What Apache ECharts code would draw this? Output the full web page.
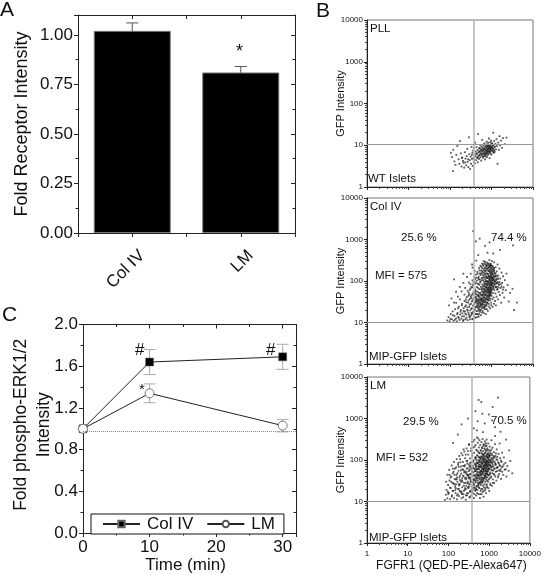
<!DOCTYPE html>
<html><head><meta charset="utf-8">
<style>html,body{margin:0;padding:0;background:#fff;overflow:hidden}#c{width:544px;height:575px}</style>
<script src="https://cdn.jsdelivr.net/npm/echarts@6/dist/echarts.min.js"></script></head>
<body><div id="c"></div>
<script>
const receptorCategories = ['Col IV', 'LM'];
const receptorValues = [1.02, 0.81];
const receptorErrors = [0.04, 0.03];

const timePoints = [0, 10, 30];
const colIVValues = [1.0, 1.64, 1.69];
const colIVErrors = [0, 0.12, 0.12];
const lmValues = [1.0, 1.34, 1.03];
const lmErrors = [0, 0.09, 0.06];
const baselineLevel = 0.98;

const gateX = 375;
const gateYPll = 10.7;
const gateY = 10;

const pllPoints = [[105,6.6],[112,5.2],[120,7.8],[128,4.1],[135,3.4],[118,2.4],[142,5.9],[150,9.6],[160,4.6],[168,3.6],[175,12.5],[182,6.4],[190,3.1],[198,5.1],[205,4.2],[212,3.8],[220,2.9],[228,6.8],[236,4.8],[245,3.3],[252,5.5],[260,8.2],[268,4.0],[276,3.0],[285,15.5],[292,6.1],[300,4.4],[306,2.7],[314,5.3],[322,3.6],[330,9.1],[338,4.7],[345,6.6],[352,3.2],[360,7.4],[368,5.0],[375,4.1],[382,8.6],[390,6.0],[398,3.7],[405,11.5],[412,5.4],[420,7.0],[428,4.4],[436,9.0],[444,6.3],[452,5.0],[460,7.7],[468,3.9],[476,18.5],[484,6.7],[492,5.6],[500,8.4],[508,4.7],[516,7.2],[524,6.0],[532,10.2],[540,5.2],[548,8.0],[556,6.5],[564,4.3],[572,9.3],[580,7.1],[588,5.7],[596,13.5],[604,6.2],[612,8.7],[620,7.4],[628,5.0],[636,9.8],[644,6.8],[652,7.9],[660,5.5],[668,11.0],[676,6.1],[684,8.3],[692,7.0],[700,4.6],[708,9.5],[716,6.4],[724,7.6],[732,5.8],[740,10.5],[748,8.1],[756,6.6],[764,12.2],[772,7.3],[780,5.2],[788,8.9],[796,6.9],[804,9.9],[812,7.7],[820,5.9],[828,11.4],[836,8.5],[844,6.2],[852,9.0],[860,7.2],[868,14.5],[876,10.0],[884,6.7],[892,8.2],[900,4.9],[910,9.4],[920,7.5],[930,11.9],[940,8.8],[950,6.3],[960,10.4],[970,7.9],[980,13.0],[990,9.2],[1000,6.0],[1020,8.6],[1040,11.2],[1060,7.4],[1080,9.7],[1100,20],[1120,8.3],[1140,6.6],[1160,12.6],[1180,9.0],[1200,7.0],[1240,10.8],[1280,8.0],[1320,14.0],[1360,9.5],[1400,3.6],[1450,11.6],[1500,7.8],[1560,16.5],[1620,9.9],[1700,12.9],[1800,8.7],[1900,14.8],[2100,10.6],[2300,15.2],
[431,6.1],[463,5.3],[497,6.9],[523,8.7],[551,7.4],[573,6.3],[611,5.4],[639,7.7],[667,8.4],[697,6.0],[727,8.9],[753,7.2],[783,9.6],[817,8.1],[847,7.0],[873,8.8],[907,7.9],[937,9.7],[967,8.5],[997,7.3],[1033,9.1],[1071,8.0],[1113,10.2],[1157,7.6],[1211,9.3],[477,4.9],[517,5.8],[587,7.9],[649,6.3],[713,5.4],[777,6.4],[843,9.9],[919,6.9],[1003,10.9],[1097,6.9],[337,5.8],[273,4.6],[233,3.9],[193,4.9],[383,4.7]];

const colIVPoints = [[86,11.2],[92,13.4],[98,10.7],[104,16],[110,12],[116,18.5],[122,11],[128,14.5],[134,21],[140,12.6],[146,10.6],[152,17],[158,13.6],[164,24],[170,11.5],[176,15.6],[182,20],[188,12.4],[194,28],[200,16.6],[206,10.9],[212,22],[218,14],[224,33],[230,18.5],[236,12],[242,26],[248,15.5],[254,41],[260,20],[266,11.4],[272,30],[278,17],[284,52],[290,24],[296,13.5],[302,37],[308,19.5],[314,66],[320,28],[326,15],[332,45],[338,22],[344,12.3],[350,34],[356,80],[362,18],[368,55],[374,26],[380,14],[386,40],[392,95],[398,21],[404,62],[410,31],[416,16],[422,48],[428,120],[434,24],[440,72],[446,36],[452,13.5],[458,55],[464,150],[470,19],[476,85],[482,29],[488,42],[494,110],[500,16],[506,64],[512,180],[518,24],[524,34],[530,92],[536,48],[542,140],[548,20],[554,72],[560,28],[566,220],[572,39],[578,105],[584,56],[590,17.5],[596,160],[602,82],[608,31],[614,44],[620,250],[626,23],[632,120],[638,65],[644,35],[650,190],[656,50],[662,95],[668,27],[674,140],[680,75],[686,40],[692,290],[698,21],[704,110],[710,58],[716,170],[722,33],[728,86],[734,46],[740,230],[746,130],[752,25],[758,68],[764,38],[770,100],[776,200],[782,54],[788,30],[794,150],[800,80],[806,270],[812,44],[818,120],[824,62],[830,35],[836,175],[842,92],[848,52],[854,240],[860,28],[866,135],[872,72],[878,42],[884,105],[890,320],[896,58],[902,190],[908,34],[914,85],[920,155],[926,48],[932,120],[938,66],[944,260],[950,38],[956,98],[962,210],[968,55],[974,140],[980,78],[986,30],[992,175],[998,110],[1005,44],[1015,300],[1025,62],[1035,150],[1045,88],[1055,36],[1065,230],[1075,125],[1085,52],[1095,72],[1110,190],[1125,40],[1140,105],[1155,280],[1170,60],[1185,160],[1200,85],[1215,33],[1230,130],[1245,50],[1260,215],[1280,72],[1300,110],[1320,42],[1340,170],[1360,62],[1380,95],[1400,250],[1430,36],[1460,135],[1490,55],[1520,80],[1550,200],[1590,46],[1630,115],[1670,68],[1710,30],[1750,160],[1800,90],[1850,52],[1900,130],[1960,70],[2020,40],[2100,105],[2200,60],[2300,150],[2450,80],[2600,32],[2800,52],[3200,65],[4100,30],[3500,20],
[95,26],[108,38],[125,30],[140,55],[155,42],[172,72],[190,56],[210,90],[232,68],[258,125],[285,92],[315,150],[350,210],[390,175],[430,310],[480,420],[360,1600],[420,900],[520,1050],[700,700],[900,850],[1600,560],[3300,720],[1100,460],[125,110],[800,480],[340,250],[210,150],
[300,14],[330,17],[355,12],[380,20],[410,13],[440,16],[470,22],[495,14],[525,18],[555,15],[585,26],[615,19],[650,17],[690,24],[730,16],[770,21],[815,19],[870,24],[925,22],[985,26],[1060,24],[1150,28],[1280,26],
[400,30],[425,38],[450,28],[475,46],[500,34],[530,52],[560,36],[590,64],[620,46],[650,78],[680,54],[710,84],[745,60],[780,70],[820,98],[860,56],[905,112],[950,68],[1000,90],[1050,115],[1100,74],[1180,100],[1250,130],[1350,90],[1450,110],
[103,12.1],[117,14.9],[131,11.7],[149,15.8],[163,12.9],[179,18.2],[197,14.1],[213,11.6],[233,16.4],[251,13],[269,19.3],[287,15.2],[305,11.9],[323,21.5],[341,16.3],[359,25.4],[377,17.6],[393,13.3],[411,23.7],[429,19],[447,31.8],[463,15.9],[481,26.3],[499,20.7],[517,38.2],[533,30.1],[551,24.2],[569,44.8],[587,33.7],[605,27.4],[623,52.6],[641,39.4],[659,30.9],[677,61],[695,45.6],[713,36.3],[731,71],[749,52.2],[767,42.4],[785,81],[803,60.7],[821,47.8],[839,93],[857,68.4],[875,54.3],[893,108],[911,78],[929,61.2],[947,124],[965,88],[983,69],[1001,142],[1023,99],[1047,77],[1071,162],[1097,112],[1123,86],[1151,184],[1183,126],[1217,95],[1253,152],[1291,106],[1337,134],[1391,117],[1447,88],
[277,44.1],[301,61.5],[329,38.7],[353,70.3],[373,47.2],[397,86],[419,57.4],[443,102],[467,68.2],[491,126],[509,81],[527,152],[547,96],[563,178],[581,118],[599,204],[617,136],[637,232],[655,158],[673,260],[691,176],[709,210],[727,126],[743,186],[761,152],[779,242],[797,118],[815,198],[833,146],[851,174],[869,212],[887,128],[905,166],[923,228],[941,186],[959,132],[977,158],[995,204],[1013,172],[1031,122],[1049,192],[1069,146],[1091,212],[1113,134],[1137,172],[1161,206],[1193,148],
[419,41],[437,33],[457,25],[473,36],[491,52],[511,43],[529,26],[547,37],[565,63],[583,47],[601,34],[619,72],[637,57],[655,41],[673,86],[691,66],[709,48],[727,102],[745,74],[763,56],[781,118],[799,88],[817,66],[835,132],[853,82],[871,62],[889,118],[907,92],[925,70],[943,102],[961,80],[979,58],[997,122],[1019,84],[1043,64],[1067,106],[1093,92],[1119,66],[1147,114],[1177,78],[1211,98],[1249,70],[1297,86],[1343,72],[1399,64],[1477,70],[1553,94],[1649,84],[1753,74],[1889,62],
[211,19],[229,24],[247,31],[263,23],[281,34],[299,27],[317,42],[335,32],[351,49],[369,37],[387,28],[403,52],[421,34],[439,24],[457,44],[475,32],[493,23],[511,30],[529,20],[547,27],[565,32],[583,22],[601,37],[619,28],[637,24],[655,34],[673,22],[691,31],[709,26],[727,38],[745,30],[763,27],[781,36],[799,30],[817,40],[835,34],[853,44],[871,38],[889,48],[907,44],[925,52],[943,46],[961,58],[979,50],
[141,30],[157,22],[175,36],[193,26],[223,47],[241,36],[267,58],[293,47],[311,84],[327,72],[347,104],[367,92],[383,125],[401,110],[423,142],[437,88],[455,165],[477,118],[503,205],[521,108],[541,232],[573,150],[593,262],[611,174],[631,104],[647,300],[667,122],[683,204],[703,148],[723,252],[739,96],[757,280],[793,236],[827,210],[863,260],[899,226],[935,240],[971,250],[1003,232]];

const lmPoints = [[82,11],[86,14.5],[90,19],[94,12],[98,25],[102,16],[106,32],[110,11.4],[114,21],[118,40],[122,14],[126,28],[130,18],[134,52],[138,12],[142,35],[146,23],[150,16],[154,66],[158,44],[162,11.2],[166,30],[170,20],[174,85],[178,55],[182,13.5],[186,38],[190,26],[194,105],[198,17],[202,70],[206,47],[210,12],[214,32],[218,22],[222,130],[226,90],[230,58],[234,15],[238,40],[242,28],[246,160],[250,19],[254,75],[258,110],[262,50],[266,11],[270,34],[274,24],[278,190],[282,62],[286,14],[290,95],[294,43],[298,30],[302,16],[306,135],[310,21],[314,78],[318,54],[322,230],[326,37],[330,12.5],[334,26],[338,110],[342,66],[346,18],[350,46],[354,165],[358,31],[362,88],[366,14],[370,23],[374,58],[378,270],[382,40],[386,125],[390,20],[394,72],[398,16],[402,34],[406,200],[410,50],[414,98],[418,27],[422,12],[426,64],[430,150],[434,43],[438,310],[442,22],[446,82],[450,36],[454,115],[458,18],[462,55],[466,230],[470,29],[474,75],[478,14],[482,175],[486,46],[490,100],[494,24],[498,62],[502,350],[506,38],[510,130],[514,19],[518,85],[522,52],[526,260],[530,32],[534,160],[538,70],[542,15],[546,44],[550,115],[554,27],[558,200],[562,60],[566,92],[570,36],[574,21],[578,300],[582,145],[586,50],[590,78],[594,12],[598,30],[602,230],[606,105],[610,42],[614,66],[618,18],[622,170],[626,25],[630,88],[634,54],[638,120],[642,34],[646,270],[650,72],[654,15],[658,46],[662,200],[666,96],[670,28],[674,60],[678,140],[682,20],[686,38],[690,320],[694,80],[698,52],[702,110],[706,24],[710,165],[714,66],[718,32],[722,240],[726,44],[730,13],[735,92],[740,18],[745,130],[750,56],[755,36],[760,190],[765,75],[770,26],[775,105],[780,48],[785,280],[790,62],[795,150],[800,30],[805,85],[810,21],[815,40],[820,215],[825,120],[830,54],[835,70],[840,16],[845,34],[850,170],[855,95],[860,46],[865,310],[870,26],[875,135],[880,62],[885,80],[890,38],[895,22],[900,190],[910,110],[920,52],[930,72],[940,30],[950,250],[960,150],[970,44],[980,92],[990,60],[1000,18],[1010,125],[1020,36],[1030,210],[1040,78],[1050,50],[1060,27],[1075,165],[1090,100],[1105,66],[1120,40],[1135,300],[1150,130],[1165,24],[1180,84],[1195,56],[1210,200],[1230,34],[1250,110],[1270,70],[1290,46],[1310,155],[1330,28],[1350,92],[1370,62],[1390,240],[1410,40],[1440,125],[1470,78],[1500,32],[1530,180],[1560,54],[1590,100],[1620,68],[1650,38],[1690,140],[1730,84],[1770,46],[1810,250],[1860,110],[1910,60],[1960,35],[2020,90],[2080,150],[2150,70],[2220,44],[2300,115],[2400,58],[2500,85],[2650,40],[2800,72],[3000,55],[3300,95],[3700,48],
[88,30],[95,44],[104,58],[112,38],[120,74],[128,48],[136,90],[144,62],[152,34],[160,105],[172,76],[184,125],[196,88],[208,145],[220,60],[235,180],[250,70],[265,135],[280,95],[300,165],[320,240],[340,85],[360,190],[385,140],[410,280],[440,210],[470,115],[500,170],[540,330],[580,120],[650,150],[720,110],[790,180],[860,220],[940,120],[1030,130],[1150,180],
[300,1000],[420,580],[210,720],[460,1500],[520,860],[550,2800],[640,2500],[680,1300],[780,760],[980,1250],[1180,900],[1400,620],[1650,3200],[1220,1900],[1900,480],[2600,310],[3100,170],[700,470],[500,520],[1400,380],[130,260],[170,410],
[160,14],[180,20],[215,15],[240,18],[270,14],[300,22],[335,13],[370,17],[400,22],[435,15],[465,19],[510,16],[560,22],[600,15],[640,20],[690,17],[750,22],[800,19],[870,24],[960,21],[1070,25],[1240,28],
[300,44],[340,38],[390,52],[430,33],[470,60],[520,42],[570,68],[620,48],[670,82],[730,62],[780,90],[840,74],[910,86],[1000,100],[1100,90],
[99,15.2],[109,21.7],[121,13.1],[133,27.4],[147,18.8],[159,34.6],[171,14.9],[183,24.3],[193,42.1],[207,17.6],[219,30.2],[231,12.7],[243,50.4],[257,21.1],[271,37.3],[283,15.7],[297,62.6],[311,26.8],[323,44.2],[337,17.2],[349,74],[363,29.6],[377,51.8],[391,18.4],[403,90],[417,33.4],[431,61.3],[443,20.4],[457,108],[471,38.6],[483,72],[497,22.6],[511,126],[523,43.7],[537,84],[549,25.2],[563,148],[577,49.8],[589,96],[603,27.8],[617,170],[629,55],[643,108],[657,30.2],[669,194],[683,62],[697,122],[709,34.1],[723,218],[737,70],[751,136],[763,38.4],[777,234],[791,78],[805,150],[819,42.6],[833,252],[847,86],[861,166],[875,48],[889,118],[903,94],[917,178],[931,56],[949,132],[967,104],[983,66],[1001,172],[1021,118],[1043,74],[1067,146],[1093,88],[1119,58],[1147,112],[1177,142],[1209,76],[1241,98],[1279,126],[1319,62],[1361,114],[1409,84],[1463,144],[1523,66],[1583,118],[1657,88],[1741,56],[1837,72],[1951,96],[2087,52],
[127,18],[139,26],[151,21],[163,38],[177,26],[189,18],[201,30],[213,16],[227,42],[239,24],[253,36],[267,20],[279,52],[293,28],[307,40],[319,23],[333,58],[347,34],[359,46],[371,19],[387,66],[399,29],[413,42],[427,25],[439,78],[453,31],[467,54],[479,20],[493,88],[507,36],[519,60],[533,24],[547,98],[561,40],[573,68],[587,28],[599,112],[613,44],[627,74],[639,32],[653,122],[667,52],[679,84],[693,30],[707,136],[719,58],[733,98],[747,36],[761,120],[773,68],[787,42],[801,108],[817,54],[829,88],[843,38],[857,128],[871,64],[883,98],[897,46],[913,142],[927,76],[941,56],[957,112],[973,42],[989,84],[1007,62],[1027,134],[1049,46],[1069,92],[1091,72],[1117,38],[1141,104],[1171,68],[1199,48],[1233,88],[1267,56],[1303,120],[1349,44],[1399,78],[1451,52],[1511,104],[1579,64],[1669,42],[1783,76],[1879,54],[2053,68],[2277,78],[2551,60],
[449,54],[461,42],[473,68],[487,33],[501,82],[513,50],[527,28],[541,60],[553,44],[567,76],[581,35],[593,90],[607,54],[621,38],[633,68],[647,44],[661,84],[673,36],[687,62],[701,48],[713,102],[727,72],[741,54],[753,88],[769,62],[783,42],[797,74],[811,100],[823,58],[837,48],[851,82],[867,66],[881,32],[893,54],[911,72],[929,44],[945,90],[961,60],[979,34],[997,76],
[367,62],[351,30],[331,70],[313,36],[289,82],[277,46],[261,28],[249,54],[229,72],[217,36],[203,56],[191,33],[179,68],[167,48],[153,26],[141,44],[129,62],[117,30],[107,44],[97,17]];

const FONT = '"Liberation Sans", Arial, sans-serif';
const DARK = '#222';

function errorBars(name, xs, ys, errs, xAxisIndex, yAxisIndex, color, capHalf, width) {
  return {
    name, type: 'custom', xAxisIndex, yAxisIndex, z: 1, silent: true, clip: false,
    data: xs.map((x, i) => [x, ys[i] - errs[i], ys[i] + errs[i], errs[i]]),
    renderItem(params, api) {
      if (!api.value(3)) return null;
      const x = api.value(0);
      const lo = api.coord([x, api.value(1)]);
      const hi = api.coord([x, api.value(2)]);
      const style = { stroke: color, lineWidth: width, fill: null };
      return { type: 'group', children: [
        { type: 'line', shape: { x1: lo[0], y1: lo[1], x2: hi[0], y2: hi[1] }, style },
        { type: 'line', shape: { x1: lo[0] - capHalf, y1: lo[1], x2: lo[0] + capHalf, y2: lo[1] }, style },
        { type: 'line', shape: { x1: hi[0] - capHalf, y1: hi[1], x2: hi[0] + capHalf, y2: hi[1] }, style }
      ]};
    }
  };
}

function mainAxis(extra) {
  return Object.assign({
    type: 'value', nameMoveOverlap: false, axisLine: { show: true, onZero: false, lineStyle: { color: DARK, width: 1 } },
    axisTick: { show: true, length: 4, lineStyle: { color: DARK } },
    minorTick: { show: true, splitNumber: 2, length: 2.5, lineStyle: { color: DARK } },
    splitLine: { show: false },
    axisLabel: { color: '#111', fontSize: 17, fontFamily: FONT, margin: 5 },
    nameTextStyle: { color: '#111', fontSize: 17, fontFamily: FONT }
  }, extra);
}
function mirrorAxis(extra) {
  return Object.assign({
    type: 'value', axisLine: { show: true, onZero: false, lineStyle: { color: DARK, width: 1 } },
    axisTick: { show: true, inside: true, length: 4, lineStyle: { color: DARK } },
    minorTick: { show: true, splitNumber: 2, length: 2.5, lineStyle: { color: DARK } },
    splitLine: { show: false }, axisLabel: { show: false }
  }, extra);
}

const flowGrids = [
  { left: 367, top: 20, width: 166, height: 167 },
  { left: 367, top: 198, width: 166, height: 166 },
  { left: 367, top: 377, width: 166, height: 166 }
];
const flowData = [pllPoints, colIVPoints, lmPoints];
const flowGates = [gateYPll, gateY, gateY];

const grids = [
  { left: 78, top: 15, width: 217, height: 218 },
  { left: 83, top: 324.5, width: 213, height: 213 }
].concat(flowGrids.map(g => Object.assign({ show: true, borderColor: '#777', borderWidth: 1 }, g)));

const xAxes = [
  mainAxis({ gridIndex: 0, min: 0.5, max: 2.5, interval: 0.5, minorTick: { show: false },
    axisLabel: { color: '#111', fontSize: 17, fontFamily: FONT, rotate: 45, margin: 10,
      showMinLabel: true, showMaxLabel: true, hideOverlap: false,
      rich: { cat: { fontSize: 17, fontFamily: FONT, color: '#111', padding: [28, 0, 0, 0] } },
      formatter: v => (Number.isInteger(v) ? '{cat|' + receptorCategories[v - 1] + '}' : '') } }),
  mainAxis({ gridIndex: 1, min: 0, max: 32, interval: 10, position: 'bottom',
    axisLabel: { color: '#111', fontSize: 17, fontFamily: FONT, margin: 6, showMaxLabel: false },
    name: 'Time (min)', nameLocation: 'middle', nameGap: 24,
    nameTextStyle: { color: '#111', fontSize: 17, fontFamily: FONT, padding: [0, 8, 0, 0] } }),
  mirrorAxis({ gridIndex: 0, position: 'top', min: 0.5, max: 2.5, interval: 0.5, minorTick: { show: false } }),
  mirrorAxis({ gridIndex: 1, position: 'top', min: 0, max: 32, interval: 10 })
];
const yAxes = [
  mainAxis({ gridIndex: 0, min: 0, max: 1.1, interval: 0.25,
    axisLabel: { color: '#111', fontSize: 17, fontFamily: FONT, margin: 5, showMaxLabel: false, formatter: v => v.toFixed(2) },
    name: 'Fold Receptor Intensity', nameLocation: 'middle', nameGap: 47, nameTextStyle: { color: '#111', fontSize: 18, fontFamily: FONT } }),
  mainAxis({ gridIndex: 1, min: 0, max: 2, interval: 0.4,
    axisLabel: { color: '#111', fontSize: 17, fontFamily: FONT, margin: 5, formatter: v => v.toFixed(1) },
    name: 'Fold phospho-ERK1/2\nIntensity', nameLocation: 'middle', nameGap: 27,
    nameTextStyle: { color: '#111', fontSize: 17.5, fontFamily: FONT, lineHeight: 23, padding: [0, 0, 0, 8] } }),
  mirrorAxis({ gridIndex: 0, position: 'right', min: 0, max: 1.1, interval: 0.25 }),
  mirrorAxis({ gridIndex: 1, position: 'right', min: 0, max: 2, interval: 0.4 })
];

const series = [
  { name: 'Fold Receptor Intensity', type: 'bar', xAxisIndex: 0, yAxisIndex: 0, barWidth: 77, z: 2,
    data: receptorValues.map((v, i) => [i + 1, v]),
    itemStyle: { color: '#000', borderColor: '#777', borderWidth: 1 } },
  errorBars('Receptor error', receptorValues.map((v, i) => i + 1), receptorValues, receptorErrors, 0, 0, '#555', 6, 1),
  errorBars('Col IV error', timePoints, colIVValues, colIVErrors, 1, 1, '#aaa', 6, 1),
  errorBars('LM error', timePoints, lmValues, lmErrors, 1, 1, '#aaa', 6, 1),
  { name: 'Baseline', type: 'line', xAxisIndex: 1, yAxisIndex: 1, data: [], silent: true,
    markLine: { silent: true, symbol: 'none', label: { show: false }, animation: false,
      lineStyle: { color: '#888', type: 'dotted', width: 1 }, data: [{ yAxis: baselineLevel }] } },
  { name: 'Col IV', type: 'line', xAxisIndex: 1, yAxisIndex: 1, z: 3, clip: false,
    data: timePoints.map((t, i) => [t, colIVValues[i]]),
    symbol: 'rect', symbolSize: 8, lineStyle: { color: '#222', width: 1 },
    itemStyle: { color: '#000', borderColor: '#666', borderWidth: 0.5 } },
  { name: 'LM', type: 'line', xAxisIndex: 1, yAxisIndex: 1, z: 4, clip: false,
    data: timePoints.map((t, i) => [t, lmValues[i]]),
    symbol: 'circle', symbolSize: 9, showAllSymbol: true, lineStyle: { color: '#222', width: 1 },
    itemStyle: { color: '#fff', borderColor: '#555', borderWidth: 0.8 } }
];

flowData.forEach((pts, i) => {
  const isLast = i === 2;
  const plain = v => String(Math.round(v));
  xAxes.push({ type: 'log', logBase: 10, gridIndex: i + 2, min: 1, max: 10000, nameMoveOverlap: false,
    axisLine: { show: true, onZero: false, lineStyle: { color: '#222' } },
    axisTick: { show: true, length: 3, lineStyle: { color: '#222' } },
    minorTick: { show: true, splitNumber: 9, length: 2, lineStyle: { color: '#444' } },
    splitLine: { show: false },
    axisLabel: { show: isLast, fontSize: 8, color: '#111', fontFamily: FONT, margin: 7, formatter: plain },
    name: isLast ? 'FGFR1 (QED-PE-Alexa647)' : '', nameLocation: 'middle', nameGap: 17,
    nameTextStyle: { fontSize: 12, color: '#111', fontFamily: FONT, padding: [0, 0, 0, 6] } });
  yAxes.push({ type: 'log', logBase: 10, gridIndex: i + 2, min: 1, max: 10000, nameMoveOverlap: false,
    axisLine: { show: true, onZero: false, lineStyle: { color: '#222' } },
    axisTick: { show: true, length: 3, lineStyle: { color: '#222' } },
    minorTick: { show: true, splitNumber: 9, length: 2, lineStyle: { color: '#444' } },
    splitLine: { show: false },
    axisLabel: { fontSize: 8, color: '#111', fontFamily: FONT, margin: 4, formatter: plain },
    name: 'GFP Intensity', nameLocation: 'middle', nameGap: 21,
    nameTextStyle: { fontSize: 11, color: '#111', fontFamily: FONT } });
  const xi = xAxes.length - 1, yi = yAxes.length - 1;
  series.push({ name: 'Flow ' + i, type: 'scatter', xAxisIndex: xi, yAxisIndex: yi, data: pts,
    symbol: 'rect', symbolSize: 1.8, large: false, silent: true, z: 2,
    itemStyle: { color: '#222', opacity: 0.75 },
    markLine: { silent: true, symbol: 'none', label: { show: false }, animation: false, z: 3,
      data: [
        { xAxis: gateX, lineStyle: { color: '#b5b5b5', width: 1.5, type: 'solid' } },
        { yAxis: flowGates[i], lineStyle: { color: '#999', width: 1, type: 'solid' } }
      ] } });
});

function txt(x, y, text, size, extra) {
  return Object.assign({ type: 'text', x, y, z: 20,
    style: { text, fill: '#111', font: size + 'px ' + FONT, textAlign: 'left', textVerticalAlign: 'middle' } }, extra || {});
}
const annotations = [
  txt(0, 10, 'A', 21), txt(316, 11, 'B', 21), txt(2, 315, 'C', 21),
  txt(236, 52, '*', 18), txt(135, 350, '#', 17), txt(266, 350, '#', 17), txt(139, 390, '*', 15),
  txt(370, 29, 'PLL', 11.5), txt(368, 179, 'WT Islets', 11.5),
  txt(370, 207, 'Col IV', 11.5), txt(369, 357, 'MIP-GFP Islets', 11.5),
  txt(401, 238, '25.6 %', 11.5), txt(491, 238, '74.4 %', 11.5), txt(375, 276, 'MFI = 575', 11.5),
  txt(370, 386, 'LM', 11.5), txt(369, 538, 'MIP-GFP Islets', 11.5),
  txt(403, 422, '29.5 %', 11.5), txt(491, 421, '70.5 %', 11.5), txt(376, 458, 'MFI = 532', 11.5)
];

const chart = echarts.init(document.getElementById('c'), null, { renderer: 'canvas' });
chart.setOption({
  animation: false, backgroundColor: '#fff', textStyle: { fontFamily: FONT },
  grid: grids, xAxis: xAxes, yAxis: yAxes, series,
  legend: { data: [{ name: 'Col IV' }, { name: 'LM' }], left: 91, top: 514, orient: 'horizontal',
    itemWidth: 37, itemHeight: 8, itemGap: 13, padding: [1, 9, 1, 11], borderColor: '#111', borderWidth: 1,
    backgroundColor: '#fff', selectedMode: false, z: 10,
    textStyle: { fontSize: 17, color: '#111', fontFamily: FONT, lineHeight: 18, padding: [0, 0, 0, 2] } },
  graphic: annotations
});
</script></body></html>
